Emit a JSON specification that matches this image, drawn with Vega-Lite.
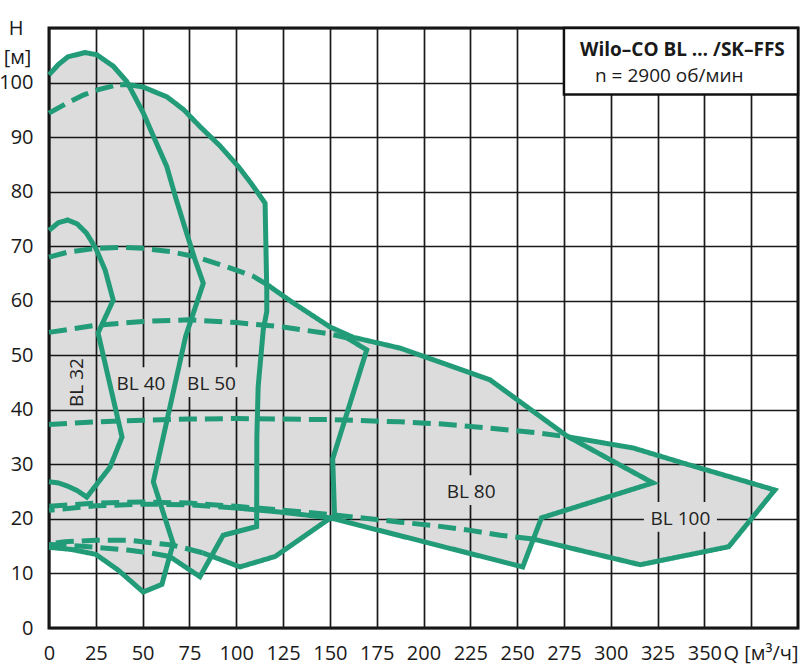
{
  "$schema": "https://vega.github.io/schema/vega-lite/v6.json",
  "width": 749,
  "height": 600,
  "autosize": {"type": "none"},
  "padding": {"left": 49, "top": 28, "right": 2, "bottom": 37},
  "background": "white",
  "config": {
    "font": "Open Sans",
    "view": {"stroke": "#111111", "strokeWidth": 3},
    "axis": {
      "grid": true, "gridColor": "#1a1a1a", "gridWidth": 1.7, "gridOpacity": 1,
      "domain": false, "ticks": false, "tickSize": 0,
      "labelFontSize": 20, "labelColor": "#1a1a1a", "labelFont": "Open Sans",
      "titleFontSize": 20, "titleFontWeight": "normal", "titleColor": "#1a1a1a", "titleFont": "Open Sans"
    }
  },
  "datasets": {
    "outline": [
      {"i": 1, "Q": 0, "H": 101.4}, {"i": 2, "Q": 5, "H": 103.3}, {"i": 3, "Q": 10, "H": 104.7},
      {"i": 4, "Q": 19.2, "H": 105.5}, {"i": 5, "Q": 25.5, "H": 105.1}, {"i": 6, "Q": 34.3, "H": 103},
      {"i": 7, "Q": 41.5, "H": 100.2}, {"i": 8, "Q": 42.5, "H": 99.6}, {"i": 9, "Q": 50, "H": 99.2},
      {"i": 10, "Q": 62.9, "H": 97.4}, {"i": 11, "Q": 72, "H": 95}, {"i": 12, "Q": 80.7, "H": 91.9},
      {"i": 13, "Q": 91, "H": 88.5}, {"i": 14, "Q": 101.1, "H": 84.6}, {"i": 15, "Q": 108, "H": 81.5},
      {"i": 16, "Q": 115.4, "H": 77.9}, {"i": 17, "Q": 116.3, "H": 63}, {"i": 18, "Q": 130, "H": 59.7},
      {"i": 19, "Q": 150, "H": 55.2}, {"i": 20, "Q": 162.4, "H": 53.3}, {"i": 21, "Q": 175, "H": 52.3},
      {"i": 22, "Q": 187.6, "H": 51.3}, {"i": 23, "Q": 210, "H": 48.6}, {"i": 24, "Q": 235.5, "H": 45.5},
      {"i": 25, "Q": 276.6, "H": 35.2}, {"i": 26, "Q": 278, "H": 35}, {"i": 27, "Q": 312, "H": 33},
      {"i": 28, "Q": 339, "H": 30.2}, {"i": 29, "Q": 387.6, "H": 25.3}, {"i": 30, "Q": 363, "H": 14.9},
      {"i": 31, "Q": 315.7, "H": 11.6}, {"i": 32, "Q": 258.6, "H": 16.3}, {"i": 33, "Q": 253, "H": 11.2},
      {"i": 34, "Q": 150.5, "H": 20.2}, {"i": 35, "Q": 120.7, "H": 13.1}, {"i": 36, "Q": 102, "H": 11.2},
      {"i": 37, "Q": 86.5, "H": 13.2}, {"i": 38, "Q": 80.6, "H": 9.4}, {"i": 39, "Q": 64.5, "H": 13.1},
      {"i": 40, "Q": 60.3, "H": 8}, {"i": 41, "Q": 50.3, "H": 6.6}, {"i": 42, "Q": 37, "H": 10.6},
      {"i": 43, "Q": 25, "H": 13.5}, {"i": 44, "Q": 12, "H": 14.4}, {"i": 45, "Q": 0, "H": 14.8}
    ],
    "curves": [
      {"seg": "s1", "style": "solid", "i": 1, "Q": 0, "H": 72.9},
      {"seg": "s1", "style": "solid", "i": 2, "Q": 5, "H": 74.3},
      {"seg": "s1", "style": "solid", "i": 3, "Q": 10, "H": 74.8},
      {"seg": "s1", "style": "solid", "i": 4, "Q": 15, "H": 74.1},
      {"seg": "s1", "style": "solid", "i": 5, "Q": 20, "H": 72.4},
      {"seg": "s1", "style": "solid", "i": 6, "Q": 25, "H": 69.6},
      {"seg": "s1", "style": "solid", "i": 7, "Q": 30, "H": 65.6},
      {"seg": "s1", "style": "solid", "i": 8, "Q": 34.3, "H": 60.1},
      {"seg": "s1", "style": "solid", "i": 9, "Q": 26.2, "H": 54.1},
      {"seg": "s1", "style": "solid", "i": 10, "Q": 39, "H": 35},
      {"seg": "s1", "style": "solid", "i": 11, "Q": 32.6, "H": 29.5},
      {"seg": "s1", "style": "solid", "i": 12, "Q": 20.2, "H": 24},
      {"seg": "s1", "style": "solid", "i": 13, "Q": 15, "H": 25.2},
      {"seg": "s1", "style": "solid", "i": 14, "Q": 10, "H": 26},
      {"seg": "s1", "style": "solid", "i": 15, "Q": 5, "H": 26.6},
      {"seg": "s1", "style": "solid", "i": 16, "Q": 0, "H": 26.8},

      {"seg": "s2", "style": "solid", "i": 1, "Q": 0, "H": 101.4},
      {"seg": "s2", "style": "solid", "i": 2, "Q": 5, "H": 103.3},
      {"seg": "s2", "style": "solid", "i": 3, "Q": 10, "H": 104.7},
      {"seg": "s2", "style": "solid", "i": 4, "Q": 19.2, "H": 105.5},
      {"seg": "s2", "style": "solid", "i": 5, "Q": 25.5, "H": 105.1},
      {"seg": "s2", "style": "solid", "i": 6, "Q": 34.3, "H": 103},
      {"seg": "s2", "style": "solid", "i": 7, "Q": 41.5, "H": 100.2},
      {"seg": "s2", "style": "solid", "i": 8, "Q": 50.4, "H": 94.4},
      {"seg": "s2", "style": "solid", "i": 9, "Q": 56.6, "H": 89.5},
      {"seg": "s2", "style": "solid", "i": 10, "Q": 62.9, "H": 84.6},
      {"seg": "s2", "style": "solid", "i": 11, "Q": 68, "H": 78.5},
      {"seg": "s2", "style": "solid", "i": 12, "Q": 73.5, "H": 72.4},
      {"seg": "s2", "style": "solid", "i": 13, "Q": 78, "H": 67.5},
      {"seg": "s2", "style": "solid", "i": 14, "Q": 82.4, "H": 63.2},
      {"seg": "s2", "style": "solid", "i": 15, "Q": 73, "H": 53.5},
      {"seg": "s2", "style": "solid", "i": 16, "Q": 55.7, "H": 26.8},
      {"seg": "s2", "style": "solid", "i": 17, "Q": 66.3, "H": 15.5},
      {"seg": "s2", "style": "solid", "i": 18, "Q": 60.3, "H": 8},
      {"seg": "s2", "style": "solid", "i": 19, "Q": 50.3, "H": 6.6},
      {"seg": "s2", "style": "solid", "i": 20, "Q": 37, "H": 10.6},
      {"seg": "s2", "style": "solid", "i": 21, "Q": 25, "H": 13.5},
      {"seg": "s2", "style": "solid", "i": 22, "Q": 12, "H": 14.4},
      {"seg": "s2", "style": "solid", "i": 23, "Q": 0, "H": 14.8},

      {"seg": "s3a", "style": "dashed", "i": 1, "Q": 0, "H": 94.4},
      {"seg": "s3a", "style": "dashed", "i": 2, "Q": 9.4, "H": 96.2},
      {"seg": "s3a", "style": "dashed", "i": 3, "Q": 18.3, "H": 97.7},
      {"seg": "s3a", "style": "dashed", "i": 4, "Q": 25.4, "H": 98.6},
      {"seg": "s3a", "style": "dashed", "i": 5, "Q": 34.3, "H": 99.4},
      {"seg": "s3a", "style": "dashed", "i": 6, "Q": 38, "H": 99.6},
      {"seg": "s3b", "style": "solid", "i": 1, "Q": 38, "H": 99.6},
      {"seg": "s3b", "style": "solid", "i": 2, "Q": 42.5, "H": 99.6},
      {"seg": "s3b", "style": "solid", "i": 3, "Q": 50, "H": 99.2},
      {"seg": "s3b", "style": "solid", "i": 4, "Q": 62.9, "H": 97.4},
      {"seg": "s3b", "style": "solid", "i": 5, "Q": 72, "H": 95},
      {"seg": "s3b", "style": "solid", "i": 6, "Q": 80.7, "H": 91.9},
      {"seg": "s3b", "style": "solid", "i": 7, "Q": 91, "H": 88.5},
      {"seg": "s3b", "style": "solid", "i": 8, "Q": 101.1, "H": 84.6},
      {"seg": "s3b", "style": "solid", "i": 9, "Q": 108, "H": 81.5},
      {"seg": "s3b", "style": "solid", "i": 10, "Q": 115.4, "H": 77.9},
      {"seg": "s3b", "style": "solid", "i": 11, "Q": 116.3, "H": 62},
      {"seg": "s3b", "style": "solid", "i": 12, "Q": 116.3, "H": 58},
      {"seg": "s3b", "style": "solid", "i": 13, "Q": 114.4, "H": 54.6},
      {"seg": "s3b", "style": "solid", "i": 14, "Q": 111.7, "H": 44.2},
      {"seg": "s3b", "style": "solid", "i": 15, "Q": 111, "H": 35},
      {"seg": "s3b", "style": "solid", "i": 16, "Q": 110.9, "H": 18.6},
      {"seg": "s3b", "style": "solid", "i": 17, "Q": 93, "H": 17},
      {"seg": "s3b", "style": "solid", "i": 18, "Q": 80.6, "H": 9.4},
      {"seg": "s3b", "style": "solid", "i": 19, "Q": 64.5, "H": 13.1},
      {"seg": "s3c", "style": "dashed", "i": 1, "Q": 64.5, "H": 13.1},
      {"seg": "s3c", "style": "dashed", "i": 2, "Q": 55, "H": 13.7},
      {"seg": "s3c", "style": "dashed", "i": 3, "Q": 42, "H": 14.3},
      {"seg": "s3c", "style": "dashed", "i": 4, "Q": 25, "H": 14.8},
      {"seg": "s3c", "style": "dashed", "i": 5, "Q": 8.5, "H": 15.2},
      {"seg": "s3c", "style": "dashed", "i": 6, "Q": 0, "H": 15.3},

      {"seg": "s4a", "style": "dashed", "i": 1, "Q": 0, "H": 54.2},
      {"seg": "s4a", "style": "dashed", "i": 2, "Q": 25, "H": 55.5},
      {"seg": "s4a", "style": "dashed", "i": 3, "Q": 50, "H": 56.2},
      {"seg": "s4a", "style": "dashed", "i": 4, "Q": 75, "H": 56.5},
      {"seg": "s4a", "style": "dashed", "i": 5, "Q": 100, "H": 56},
      {"seg": "s4a", "style": "dashed", "i": 6, "Q": 125, "H": 55.2},
      {"seg": "s4a", "style": "dashed", "i": 7, "Q": 150, "H": 53.9},
      {"seg": "s4a", "style": "dashed", "i": 8, "Q": 159, "H": 53.2},
      {"seg": "s4b", "style": "solid", "i": 1, "Q": 159, "H": 53.2},
      {"seg": "s4b", "style": "solid", "i": 2, "Q": 169.7, "H": 51},
      {"seg": "s4b", "style": "solid", "i": 3, "Q": 151.5, "H": 31},
      {"seg": "s4b", "style": "solid", "i": 4, "Q": 152.5, "H": 20.5},
      {"seg": "s4b", "style": "solid", "i": 5, "Q": 150, "H": 20.1},
      {"seg": "s4b", "style": "solid", "i": 6, "Q": 120.7, "H": 13.1},
      {"seg": "s4b", "style": "solid", "i": 7, "Q": 102, "H": 11.2},
      {"seg": "s4b", "style": "solid", "i": 8, "Q": 82, "H": 13.8},
      {"seg": "s4c", "style": "dashed", "i": 1, "Q": 82, "H": 13.8},
      {"seg": "s4c", "style": "dashed", "i": 2, "Q": 66, "H": 15.2},
      {"seg": "s4c", "style": "dashed", "i": 3, "Q": 42, "H": 16.1},
      {"seg": "s4c", "style": "dashed", "i": 4, "Q": 25, "H": 16.1},
      {"seg": "s4c", "style": "dashed", "i": 5, "Q": 8.5, "H": 15.8},
      {"seg": "s4c", "style": "dashed", "i": 6, "Q": 0, "H": 15.4},

      {"seg": "s5a", "style": "dashed", "i": 1, "Q": 0, "H": 68},
      {"seg": "s5a", "style": "dashed", "i": 2, "Q": 10, "H": 68.9},
      {"seg": "s5a", "style": "dashed", "i": 3, "Q": 25, "H": 69.6},
      {"seg": "s5a", "style": "dashed", "i": 4, "Q": 40, "H": 69.8},
      {"seg": "s5a", "style": "dashed", "i": 5, "Q": 50, "H": 69.6},
      {"seg": "s5a", "style": "dashed", "i": 6, "Q": 65, "H": 69},
      {"seg": "s5a", "style": "dashed", "i": 7, "Q": 79, "H": 68},
      {"seg": "s5a", "style": "dashed", "i": 8, "Q": 95, "H": 66.2},
      {"seg": "s5a", "style": "dashed", "i": 9, "Q": 109, "H": 64.5},
      {"seg": "s5a", "style": "dashed", "i": 10, "Q": 116.3, "H": 63},
      {"seg": "s5b", "style": "solid", "i": 1, "Q": 116.3, "H": 63},
      {"seg": "s5b", "style": "solid", "i": 2, "Q": 130, "H": 59.7},
      {"seg": "s5b", "style": "solid", "i": 3, "Q": 150, "H": 55.2},
      {"seg": "s5b", "style": "solid", "i": 4, "Q": 162.4, "H": 53.3},
      {"seg": "s5b", "style": "solid", "i": 5, "Q": 175, "H": 52.3},
      {"seg": "s5b", "style": "solid", "i": 6, "Q": 187.6, "H": 51.3},
      {"seg": "s5b", "style": "solid", "i": 7, "Q": 210, "H": 48.6},
      {"seg": "s5b", "style": "solid", "i": 8, "Q": 235.5, "H": 45.5},
      {"seg": "s5b", "style": "solid", "i": 9, "Q": 276.6, "H": 35.2},
      {"seg": "s5b", "style": "solid", "i": 10, "Q": 300, "H": 30.8},
      {"seg": "s5b", "style": "solid", "i": 11, "Q": 322.5, "H": 26.6},
      {"seg": "s5b", "style": "solid", "i": 12, "Q": 263, "H": 20.2},
      {"seg": "s5b", "style": "solid", "i": 13, "Q": 253, "H": 11.2},
      {"seg": "s5b", "style": "solid", "i": 14, "Q": 150, "H": 20.2},
      {"seg": "s5b", "style": "solid", "i": 15, "Q": 125, "H": 21.2},
      {"seg": "s5b", "style": "solid", "i": 16, "Q": 100, "H": 22},
      {"seg": "s5c", "style": "dashed", "i": 1, "Q": 100, "H": 22},
      {"seg": "s5c", "style": "dashed", "i": 2, "Q": 75, "H": 22.6},
      {"seg": "s5c", "style": "dashed", "i": 3, "Q": 50, "H": 22.7},
      {"seg": "s5c", "style": "dashed", "i": 4, "Q": 25, "H": 22.4},
      {"seg": "s5c", "style": "dashed", "i": 5, "Q": 0, "H": 21.6},

      {"seg": "s6a", "style": "dashed", "i": 1, "Q": 0, "H": 37.3},
      {"seg": "s6a", "style": "dashed", "i": 2, "Q": 25, "H": 37.8},
      {"seg": "s6a", "style": "dashed", "i": 3, "Q": 50, "H": 38.1},
      {"seg": "s6a", "style": "dashed", "i": 4, "Q": 75, "H": 38.3},
      {"seg": "s6a", "style": "dashed", "i": 5, "Q": 100, "H": 38.4},
      {"seg": "s6a", "style": "dashed", "i": 6, "Q": 125, "H": 38.3},
      {"seg": "s6a", "style": "dashed", "i": 7, "Q": 150, "H": 38.2},
      {"seg": "s6a", "style": "dashed", "i": 8, "Q": 187.5, "H": 37.8},
      {"seg": "s6a", "style": "dashed", "i": 9, "Q": 210, "H": 37.4},
      {"seg": "s6a", "style": "dashed", "i": 10, "Q": 230, "H": 36.8},
      {"seg": "s6a", "style": "dashed", "i": 11, "Q": 260, "H": 35.8},
      {"seg": "s6a", "style": "dashed", "i": 12, "Q": 278, "H": 35},
      {"seg": "s6b", "style": "solid", "i": 1, "Q": 278, "H": 35},
      {"seg": "s6b", "style": "solid", "i": 2, "Q": 312, "H": 33},
      {"seg": "s6b", "style": "solid", "i": 3, "Q": 339, "H": 30.2},
      {"seg": "s6b", "style": "solid", "i": 4, "Q": 387.6, "H": 25.3},
      {"seg": "s6b", "style": "solid", "i": 5, "Q": 363, "H": 14.9},
      {"seg": "s6b", "style": "solid", "i": 6, "Q": 315.7, "H": 11.6},
      {"seg": "s6b", "style": "solid", "i": 7, "Q": 258.6, "H": 16.3},
      {"seg": "s6c", "style": "dashed", "i": 1, "Q": 258.6, "H": 16.3},
      {"seg": "s6c", "style": "dashed", "i": 2, "Q": 241, "H": 17},
      {"seg": "s6c", "style": "dashed", "i": 3, "Q": 225, "H": 17.9},
      {"seg": "s6c", "style": "dashed", "i": 4, "Q": 205, "H": 18.8},
      {"seg": "s6c", "style": "dashed", "i": 5, "Q": 187.6, "H": 19.4},
      {"seg": "s6c", "style": "dashed", "i": 6, "Q": 175, "H": 19.9},
      {"seg": "s6c", "style": "dashed", "i": 7, "Q": 150, "H": 20.8},
      {"seg": "s6c", "style": "dashed", "i": 8, "Q": 125, "H": 21.6},
      {"seg": "s6c", "style": "dashed", "i": 9, "Q": 100, "H": 22.3},
      {"seg": "s6c", "style": "dashed", "i": 10, "Q": 75, "H": 22.9},
      {"seg": "s6c", "style": "dashed", "i": 11, "Q": 50, "H": 23.1},
      {"seg": "s6c", "style": "dashed", "i": 12, "Q": 25, "H": 22.9},
      {"seg": "s6c", "style": "dashed", "i": 13, "Q": 0, "H": 22.3}
    ],
    "labels": [
      {"name": "BL 32", "Q": 18.2, "H": 45.0},
      {"name": "BL 40", "Q": 49.1, "H": 43.6},
      {"name": "BL 50", "Q": 86.8, "H": 43.6},
      {"name": "BL 80", "Q": 225.4, "H": 23.8},
      {"name": "BL 100", "Q": 337.2, "H": 18.9}
    ],
    "box": [{"Q1": 275, "Q2": 400, "H1": 97.8, "H2": 110}],
    "boxtext": [
      {"t": "Wilo–CO BL … /SK–FFS", "w": "bold", "Q": 283.6, "H": 104.8},
      {"t": "n = 2900 об/мин", "w": "normal", "Q": 291.6, "H": 100.1}
    ]
  },
  "encoding": {
    "x": {
      "field": "Q", "type": "quantitative",
      "scale": {"domain": [0, 400], "nice": false, "zero": false},
      "axis": {
        "values": [0, 25, 50, 75, 100, 125, 150, 175, 200, 225, 250, 275, 300, 325, 350, 375],
        "labelExpr": "datum.value <= 350 ? datum.label : ''",
        "labelPadding": 15, "labelAngle": 0, "labelFlush": false,
        "title": "Q [м³/ч]", "titleAlign": "right", "titleBaseline": "top",
        "titleX": 749, "titleY": 15, "titleAnchor": "end"
      }
    },
    "y": {
      "field": "H", "type": "quantitative",
      "scale": {"domain": [0, 110], "nice": false, "zero": false},
      "axis": {
        "values": [0, 10, 20, 30, 40, 50, 60, 70, 80, 90, 100, 110],
        "labelExpr": "datum.value == 110 ? 'H' : datum.label",
        "labelPadding": {"condition": {"test": "datum.value == 110", "value": 26}, "value": 16},
        "labelFlush": false, "labelOverlap": false,
        "title": "[м]", "titleAngle": 0, "titleAlign": "center", "titleBaseline": "alphabetic",
        "titleX": -32, "titleY": 35, "titleAnchor": "end"
      }
    }
  },
  "layer": [
    {
      "data": {"name": "outline"},
      "mark": {"type": "line", "fill": "#000000", "fillOpacity": 0.137, "strokeWidth": 0, "strokeOpacity": 0},
      "encoding": {"order": {"field": "i", "type": "quantitative"}}
    },
    {
      "data": {"name": "labels"},
      "transform": [{"filter": "datum.name == 'BL 40' || datum.name == 'BL 50' || datum.name == 'BL 80'"}],
      "mark": {"type": "point", "filled": true, "color": "#dcdcdc", "opacity": 1, "strokeWidth": 0,
               "shape": "M-1,-0.48L1,-0.48L1,0.48L-1,0.48Z", "size": 3844, "yOffset": -8}
    },
    {
      "data": {"name": "labels"},
      "transform": [{"filter": "datum.name == 'BL 100'"}],
      "mark": {"type": "point", "filled": true, "color": "#dcdcdc", "opacity": 1, "strokeWidth": 0,
               "shape": "M-1,-0.41L1,-0.41L1,0.41L-1,0.41Z", "size": 5329, "yOffset": -8}
    },
    {
      "data": {"name": "curves"},
      "mark": {"type": "line", "color": "#229b78", "strokeWidth": 5, "strokeJoin": "miter", "strokeCap": "butt"},
      "encoding": {
        "detail": {"field": "seg"},
        "order": {"field": "i", "type": "quantitative"},
        "strokeDash": {"field": "style", "type": "nominal", "scale": {"domain": ["solid", "dashed"], "range": [[1, 0], [18, 8]]}, "legend": null}
      }
    },
    {
      "data": {"name": "box"},
      "mark": {"type": "rect", "fill": "white", "stroke": "#111111", "strokeWidth": 2.5},
      "encoding": {
        "x": {"field": "Q1", "type": "quantitative"},
        "x2": {"field": "Q2"},
        "y": {"field": "H1", "type": "quantitative"},
        "y2": {"field": "H2"}
      }
    },
    {
      "data": {"name": "boxtext"},
      "transform": [{"filter": "datum.w == 'bold'"}],
      "mark": {"type": "text", "fontSize": 19, "fontWeight": "bold", "align": "left", "baseline": "alphabetic", "color": "#1a1a1a"},
      "encoding": {"text": {"field": "t"}}
    },
    {
      "data": {"name": "boxtext"},
      "transform": [{"filter": "datum.w == 'normal'"}],
      "mark": {"type": "text", "fontSize": 19, "align": "left", "baseline": "alphabetic", "color": "#1a1a1a"},
      "encoding": {"text": {"field": "t"}}
    },
    {
      "data": {"name": "labels"},
      "transform": [{"filter": "datum.name != 'BL 32'"}],
      "mark": {"type": "text", "fontSize": 19, "align": "center", "baseline": "alphabetic", "color": "#222222"},
      "encoding": {"text": {"field": "name"}}
    },
    {
      "data": {"name": "labels"},
      "transform": [{"filter": "datum.name == 'BL 32'"}],
      "mark": {"type": "text", "fontSize": 19, "align": "center", "baseline": "alphabetic", "angle": 270, "color": "#222222"},
      "encoding": {"text": {"field": "name"}}
    }
  ]
}
